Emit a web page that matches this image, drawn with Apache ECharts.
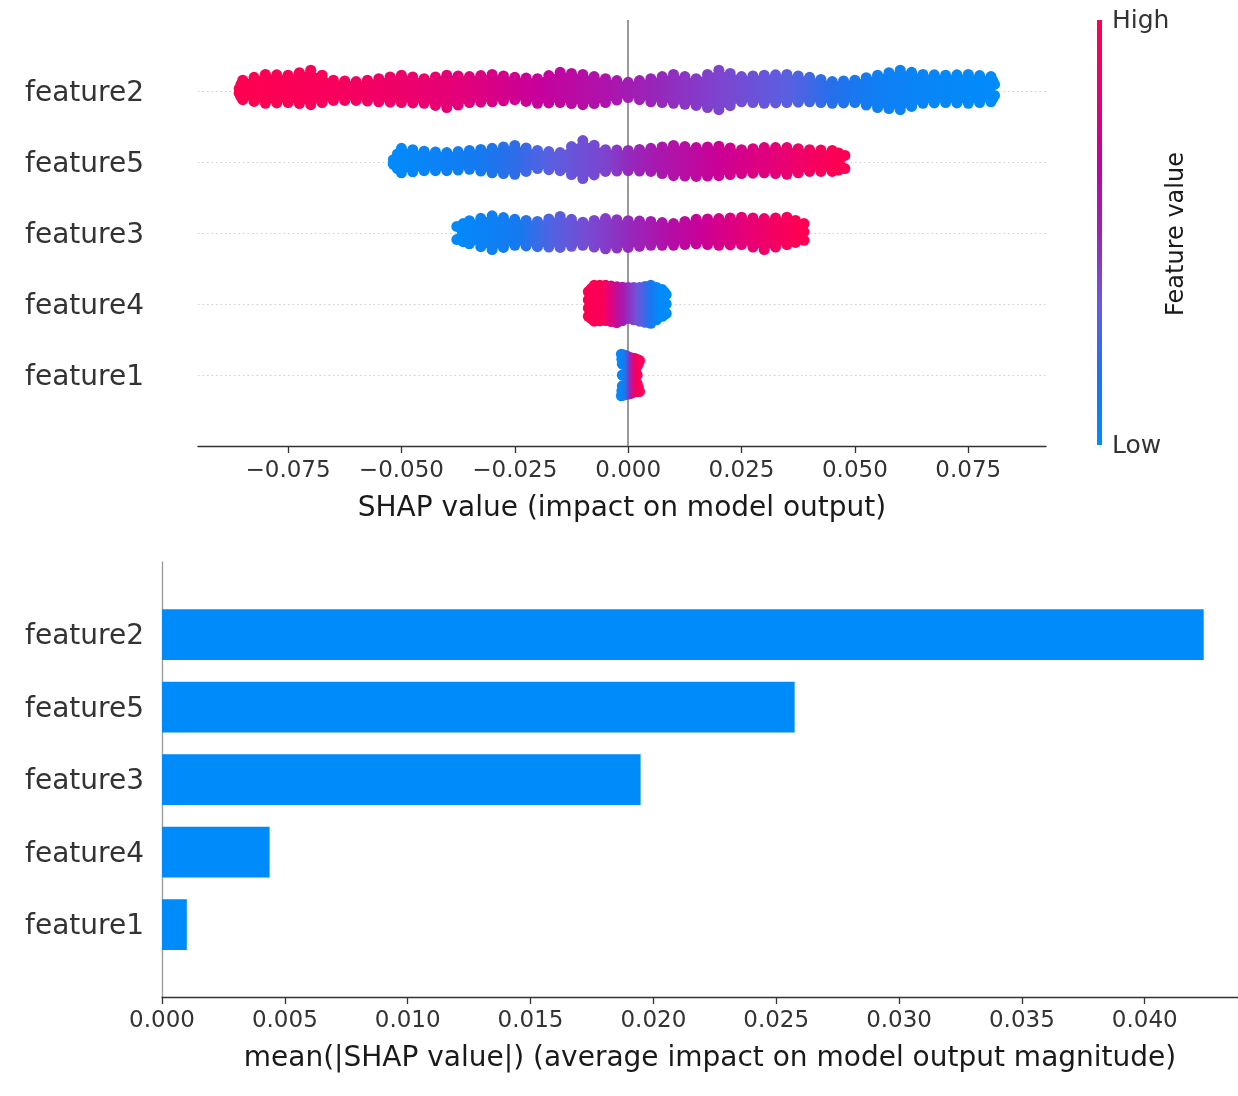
<!DOCTYPE html>
<html>
<head>
<meta charset="utf-8">
<script src="https://cdn.jsdelivr.net/npm/echarts@6/dist/echarts.min.js"></script>
<style>
html, body { margin: 0; padding: 0; background: #fff; }
#chart { width: 1238px; height: 1096px; }
</style>
</head>
<body>
<div id="chart"></div>
<script>
// features, top row first
var features = ['feature2', 'feature5', 'feature3', 'feature4', 'feature1'];
var meanAbsShap = [0.0424, 0.02575, 0.01948, 0.00438, 0.00101];
var shapTicks = [-0.075, -0.05, -0.025, 0, 0.025, 0.05, 0.075];
var meanTicks = [0, 0.005, 0.01, 0.015, 0.02, 0.025, 0.03, 0.035, 0.04];

// swarm outline: [shap value, spread above, spread below], spread in row heights
var f2Edge = [
  [-0.087, 0.11, 0.11], [-0.085, 0.23, 0.20], [-0.080, 0.31, 0.25], [-0.075, 0.30, 0.24],
  [-0.070, 0.37, 0.27], [-0.065, 0.23, 0.21], [-0.060, 0.21, 0.21], [-0.055, 0.25, 0.23],
  [-0.050, 0.30, 0.24], [-0.045, 0.25, 0.25], [-0.040, 0.30, 0.31], [-0.035, 0.28, 0.24],
  [-0.030, 0.31, 0.23], [-0.025, 0.27, 0.20], [-0.020, 0.25, 0.25], [-0.015, 0.34, 0.24],
  [-0.010, 0.31, 0.27], [-0.005, 0.25, 0.24], [0.000, 0.20, 0.17], [0.005, 0.25, 0.23],
  [0.010, 0.31, 0.25], [0.015, 0.25, 0.28], [0.020, 0.37, 0.34], [0.025, 0.28, 0.23],
  [0.030, 0.30, 0.25], [0.035, 0.31, 0.24], [0.040, 0.27, 0.23], [0.045, 0.21, 0.25],
  [0.050, 0.23, 0.24], [0.055, 0.30, 0.31], [0.060, 0.37, 0.34], [0.065, 0.31, 0.25],
  [0.070, 0.30, 0.24], [0.075, 0.31, 0.25], [0.080, 0.28, 0.23], [0.082, 0.17, 0.14]
];
var f5Edge = [
  [-0.053, 0.11, 0.11], [-0.050, 0.27, 0.23], [-0.045, 0.23, 0.20], [-0.040, 0.21, 0.20],
  [-0.035, 0.24, 0.18], [-0.030, 0.27, 0.23], [-0.025, 0.31, 0.25], [-0.020, 0.24, 0.17],
  [-0.015, 0.21, 0.20], [-0.010, 0.38, 0.31], [-0.005, 0.25, 0.21], [0.000, 0.24, 0.20],
  [0.005, 0.27, 0.21], [0.010, 0.31, 0.27], [0.015, 0.28, 0.28], [0.020, 0.30, 0.27],
  [0.025, 0.25, 0.24], [0.030, 0.28, 0.23], [0.035, 0.28, 0.25], [0.040, 0.25, 0.21],
  [0.045, 0.24, 0.21], [0.049, 0.17, 0.17]
];
var f3Edge = [
  [-0.039, 0.17, 0.17], [-0.035, 0.25, 0.23], [-0.030, 0.32, 0.31], [-0.025, 0.27, 0.25],
  [-0.020, 0.24, 0.27], [-0.015, 0.31, 0.28], [-0.010, 0.23, 0.25], [-0.005, 0.28, 0.30],
  [0.000, 0.25, 0.28], [0.005, 0.24, 0.25], [0.010, 0.21, 0.25], [0.015, 0.27, 0.23],
  [0.020, 0.28, 0.25], [0.025, 0.30, 0.24], [0.030, 0.28, 0.31], [0.035, 0.30, 0.24],
  [0.040, 0.21, 0.18]
];
var f4Edge = [
  [-0.0100, 0.25, 0.25], [-0.0075, 0.34, 0.32], [-0.0050, 0.34, 0.31], [-0.0025, 0.32, 0.34],
  [0.0000, 0.31, 0.28], [0.0025, 0.31, 0.32], [0.0050, 0.34, 0.35], [0.0075, 0.28, 0.25],
  [0.0096, 0.21, 0.21]
];
var f1Edge = [
  [-0.0025, 0.23, 0.23], [-0.0015, 0.37, 0.37], [-0.0005, 0.35, 0.35], [0.0005, 0.32, 0.34],
  [0.0015, 0.31, 0.31], [0.0025, 0.28, 0.31], [0.0032, 0.20, 0.20]
];

// feature value seen along each swarm: [shap value, feature value 0 (low) .. 1 (high)]
var f2Colour = [
  [-0.087, 1], [-0.070, 0.97], [-0.050, 0.88], [-0.035, 0.8], [-0.020, 0.68], [-0.005, 0.58],
  [0.005, 0.5], [0.020, 0.4], [0.035, 0.3], [0.045, 0.18], [0.055, 0.08], [0.070, 0.03], [0.082, 0]
];
var f5Colour = [
  [-0.053, 0], [-0.032, 0.12], [-0.025, 0.2], [-0.017, 0.3], [-0.005, 0.4], [0.000, 0.48],
  [0.006, 0.55], [0.020, 0.7], [0.035, 0.85], [0.045, 0.98], [0.049, 1]
];
var f3Colour = [
  [-0.039, 0], [-0.024, 0.12], [-0.0167, 0.28], [-0.009, 0.38], [0.000, 0.48], [0.009, 0.6],
  [0.0165, 0.7], [0.0275, 0.85], [0.0385, 1], [0.040, 1]
];
var f4Colour = [
  [-0.0100, 1], [-0.0056, 0.97], [-0.0041, 0.8], [-0.0012, 0.55], [0.0019, 0.35],
  [0.0047, 0.15], [0.0069, 0], [0.0096, 0]
];
var f1Colour = [
  [-0.0025, 0], [-0.0008, 0.1], [0.0003, 0.5], [0.0014, 0.9], [0.0032, 1]
];

var swarmEdges = [f2Edge, f5Edge, f3Edge, f4Edge, f1Edge];
var swarmColours = [f2Colour, f5Colour, f3Colour, f4Colour, f1Colour];

// shap red_blue colormap, low -> high, evenly spaced
var cmapStops = ['#008bfb', '#1f72ec', '#6a5ade', '#9a24b8', '#c4009e', '#e80074', '#ff0052'];

var FONT = 'DejaVu Sans';
var DOT = 5.5;

function hexToRgb(h) {
  return [parseInt(h.slice(1, 3), 16), parseInt(h.slice(3, 5), 16), parseInt(h.slice(5, 7), 16)];
}

function cmap(t) {
  t = Math.max(0, Math.min(1, t));
  var n = cmapStops.length - 1;
  var k = Math.min(Math.floor(t * n), n - 1);
  var f = t * n - k;
  var a = hexToRgb(cmapStops[k]);
  var b = hexToRgb(cmapStops[k + 1]);
  var c = a.map(function (v, j) { return Math.round(v + (b[j] - v) * f); });
  return 'rgb(' + c.join(',') + ')';
}

function renderSwarm(params, api) {
  var i = params.dataIndex;
  var edge = swarmEdges[i];
  var colour = swarmColours[i];
  var row = api.value(1);
  var top = [], bottom = [];

  edge.forEach(function (e, k) {
    var mid = api.coord([e[0], row]);
    var up = api.coord([e[0], row + e[1]]);
    var down = api.coord([e[0], row - e[2]]);
    var px = mid[0];
    if (k === 0) px += DOT;
    if (k === edge.length - 1) px -= DOT;
    top.push([px, Math.min(up[1] + DOT, mid[1])]);
    bottom.push([px, Math.max(down[1] - DOT, mid[1])]);
  });

  var x0 = api.coord([edge[0][0], row])[0];
  var x1 = api.coord([edge[edge.length - 1][0], row])[0];
  var stops = colour.map(function (c) {
    var px = api.coord([c[0], row])[0];
    return { offset: Math.max(0, Math.min(1, (px - x0) / (x1 - x0))), color: cmap(c[1]) };
  });
  function dot(cx, cy) {
    return {
      type: 'circle',
      shape: { cx: cx, cy: cy, r: DOT },
      style: { fill: { type: 'linear', x: x0, y: 0, x2: x1, y2: 0, colorStops: stops, global: true } }
    };
  }

  var children = [{
    type: 'polygon',
    shape: { points: top.concat(bottom.slice().reverse()) },
    style: { fill: { type: 'linear', x: x0, y: 0, x2: x1, y2: 0, colorStops: stops, global: true } }
  }];

  // dots along the upper and lower rims
  [top, bottom].forEach(function (pts) {
    for (var k = 0; k < pts.length; k++) {
      children.push(dot(pts[k][0], pts[k][1]));
      if (k < pts.length - 1) {
        children.push(dot((pts[k][0] + pts[k + 1][0]) / 2, (pts[k][1] + pts[k + 1][1]) / 2));
      }
    }
  });
  // dots along the two ends
  [0, top.length - 1].forEach(function (k) {
    var ya = top[k][1], yb = bottom[k][1];
    var n = Math.max(1, Math.round((yb - ya) / (DOT * 1.6)));
    for (var j = 1; j < n; j++) {
      children.push(dot(top[k][0], ya + (yb - ya) * j / n));
    }
  });

  return { type: 'group', children: children };
}

function shapLabel(v) {
  return (v < 0 ? '\u2212' : '') + Math.abs(v).toFixed(3);
}

var rows = features.map(function (f, i) { return features.length - 1 - i; });
var barCategories = [''].concat(features.slice().reverse(), [' ']);
var barData = [null].concat(meanAbsShap.slice().reverse(), [null]);

var colourbarStops = cmapStops.map(function (c, k) {
  return { offset: 1 - k / (cmapStops.length - 1), color: c };
});

var nameRich = { n: { fontSize: 28, color: '#333', fontFamily: FONT, padding: [5, 0, 0, 0] } };

var chart = echarts.init(document.getElementById('chart'));

var option = {
  animation: false,
  backgroundColor: '#fff',
  textStyle: { fontFamily: FONT },
  grid: [
    { left: 198, top: 20, width: 848, height: 426, outerBoundsMode: 'none' },
    { left: 162, top: 562, width: 1096, height: 435, outerBoundsMode: 'none' }
  ],
  xAxis: [
    {
      gridIndex: 0,
      type: 'value',
      min: -0.09486,
      max: 0.09214,
      name: 'SHAP value (impact on model output)',
      nameLocation: 'middle',
      nameGap: 49,
      nameTextStyle: { fontSize: 28, color: '#1a1a1a', fontFamily: FONT },
      axisLine: { show: true, onZero: false, lineStyle: { color: '#333', width: 1.3 } },
      axisTick: { show: true, length: 7, lineStyle: { color: '#333', width: 1.3 }, customValues: shapTicks },
      axisLabel: { fontSize: 23, color: '#333', margin: 14, customValues: shapTicks, formatter: shapLabel },
      splitLine: { show: false }
    },
    {
      gridIndex: 1,
      type: 'value',
      min: 0,
      max: 0.04461,
      name: 'mean(|SHAP value|) (average impact on model output magnitude)',
      nameLocation: 'middle',
      nameGap: 48,
      nameTextStyle: { fontSize: 28, color: '#1a1a1a', fontFamily: FONT },
      axisLine: { show: true, onZero: false, lineStyle: { color: '#333', width: 1.3 } },
      axisTick: { show: true, length: 7, lineStyle: { color: '#333', width: 1.3 }, customValues: meanTicks },
      axisLabel: { fontSize: 23, color: '#333', margin: 13, customValues: meanTicks, formatter: function (v) { return v.toFixed(3); } },
      splitLine: { show: false }
    }
  ],
  yAxis: [
    {
      gridIndex: 0,
      type: 'value',
      min: -1,
      max: 5,
      axisLine: { show: false },
      axisTick: { show: false },
      splitLine: { show: false },
      axisLabel: {
        margin: 54,
        customValues: rows,
        rich: nameRich,
        formatter: function (v) {
          var f = features[features.length - 1 - v];
          return f ? '{n|' + f + '}' : '';
        }
      }
    },
    {
      gridIndex: 1,
      type: 'category',
      boundaryGap: false,
      data: barCategories,
      axisLine: { show: true, onZero: false, lineStyle: { color: '#999', width: 1.3 } },
      axisTick: { show: false },
      splitLine: { show: false },
      axisLabel: {
        margin: 18,
        rich: nameRich,
        formatter: function (v) { return v.trim() ? '{n|' + v + '}' : ''; }
      }
    }
  ],
  series: [
    {
      type: 'custom',
      xAxisIndex: 0,
      yAxisIndex: 0,
      z: 10,
      data: rows.map(function (r) { return [0, r]; }),
      encode: { x: 0, y: 1 },
      renderItem: renderSwarm,
      markLine: {
        silent: true,
        symbol: 'none',
        label: { show: false },
        data: rows.map(function (r) {
          return { yAxis: r, lineStyle: { color: '#cfcfcf', width: 1, type: [1.5, 3] } };
        }).concat([{ xAxis: 0, lineStyle: { color: '#999', width: 2, type: 'solid' } }])
      }
    },
    {
      type: 'bar',
      xAxisIndex: 1,
      yAxisIndex: 1,
      barWidth: '70%',
      data: barData,
      itemStyle: { color: '#008bfb' }
    }
  ],
  graphic: [
    {
      type: 'rect',
      shape: { x: 1097, y: 20, width: 5, height: 425 },
      style: {
        fill: { type: 'linear', x: 0, y: 0, x2: 0, y2: 1, colorStops: colourbarStops }
      }
    },
    {
      type: 'text', x: 1112, y: 21,
      style: { text: 'High', fontSize: 25, fontFamily: FONT, fill: '#333', verticalAlign: 'middle' }
    },
    {
      type: 'text', x: 1112, y: 446,
      style: { text: 'Low', fontSize: 25, fontFamily: FONT, fill: '#333', verticalAlign: 'middle' }
    },
    {
      type: 'text', x: 1177, y: 234, rotation: Math.PI / 2,
      style: { text: 'Feature value', fontSize: 24, fontFamily: FONT, fill: '#1a1a1a', align: 'center', verticalAlign: 'middle' }
    }
  ]
};

chart.setOption(option);
</script>
</body>
</html>
